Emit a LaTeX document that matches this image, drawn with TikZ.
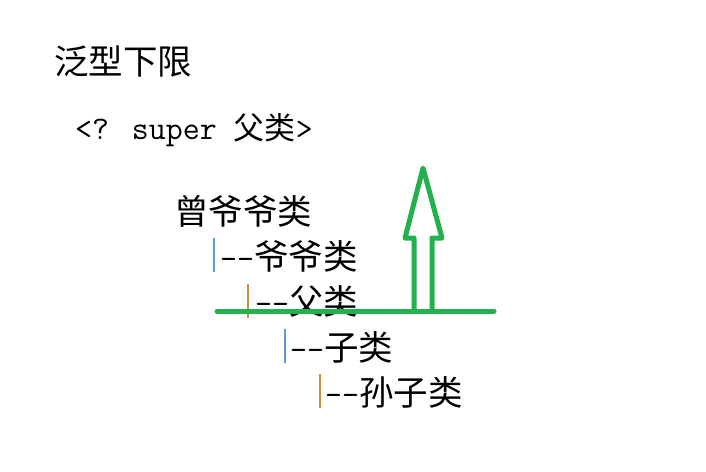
\documentclass[tikz,border=0pt]{standalone}
\usepackage{fontspec}
\setmainfont{Noto Sans CJK SC}
\definecolor{pgreen}{HTML}{22B14C}
\definecolor{barblue}{HTML}{5B9BD5}
\definecolor{barorange}{HTML}{D08A3C}
\newcommand{\latpart}[1]{{\ttfamily\fontsize{33}{34}\selectfont #1}}
\begin{document}
\begin{tikzpicture}[x=1pt,y=-1pt,
  txt/.style={anchor=west,inner sep=0pt,font=\fontsize{34.5}{36}\selectfont},
  bar/.style={line width=1.3pt},
  grn/.style={draw=pgreen,line width=5pt,line cap=round,line join=round}]
\useasboundingbox[fill=white] (0,0) rectangle (706,471);
\node[txt] (title) at (54,61) {泛型下限};
\node[txt,font=\fontsize{31}{34}\selectfont] (sig) at (75,130) {\latpart{<? super }父类\latpart{>}};
\node[txt] (n0) at (174,211) {曾爷爷类};
\node[txt] (n1) at (220,256) {\latpart{--}爷爷类};
\node[txt] (n2) at (255,301) {\latpart{--}父类};
\node[txt] (n3) at (290,347) {\latpart{--}子类};
\node[txt] (n4) at (325,392) {\latpart{--}孙子类};
\draw[bar,barblue] (214,238) -- (214,272);
\draw[bar,barorange] (248,284) -- (248,318);
\draw[bar,barblue] (285,329) -- (285,363);
\draw[bar,barorange] (320,374) -- (320,408);
\coordinate (la) at (217,311);
\coordinate (lb) at (494,311);
\draw[grn] (la) -- (lb);
\draw[grn] (414,311) -- (414,238) -- (405,238) -- (423,168) -- (442,238) -- (432,238) -- (432,311);
\end{tikzpicture}
\end{document}
